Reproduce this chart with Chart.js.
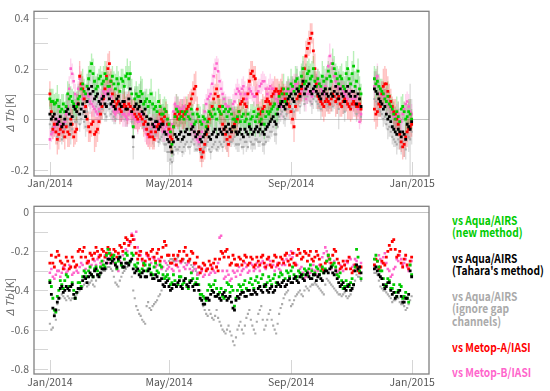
<!DOCTYPE html>
<html><head><meta charset="utf-8">
<script src="https://cdn.jsdelivr.net/npm/chart.js@4"></script>
<style>
html,body{margin:0;padding:0;background:#fff;width:550px;height:391px;overflow:hidden}
#c1{position:absolute;left:0;top:0}
#c2{position:absolute;left:0;top:195px}
.lg{position:absolute;left:452px;font-family:"Noto Sans CJK JP",sans-serif;font-weight:bold;font-size:12px;line-height:12.5px;white-space:nowrap;transform:scaleX(0.85);transform-origin:0 0}
</style></head><body>
<canvas id="c1" width="440" height="195"></canvas>
<canvas id="c2" width="440" height="196"></canvas>
<div id="legend"></div>
<script>
// ---- data: two interleaved daily samplings (days since 1 Jan 2014) ----
const days=[0,3,6,9,12,15,18,21,24,27,
30,33,36,39,42,45,48,51,54,57,
60,63,66,69,72,75,78,81,84,87,
90,93,96,99,102,105,108,111,114,117,
120,123,126,129,132,135,138,141,144,147,
150,153,156,159,162,165,168,171,174,177,
180,183,186,189,192,195,198,201,204,207,
210,213,216,219,222,225,228,231,234,237,
240,243,246,249,252,255,258,261,264,267,
270,273,276,279,282,285,288,291,294,297,
300,303,306,309,312,
327,330,333,336,339,342,345,348,351,354,357,360,363];
const daysB=[1.5,4.5,7.5,10.5,13.5,16.5,19.5,22.5,25.5,28.5,
31.5,34.5,37.5,40.5,43.5,46.5,49.5,52.5,55.5,58.5,
61.5,64.5,67.5,70.5,73.5,76.5,79.5,82.5,85.5,88.5,
91.5,94.5,97.5,100.5,103.5,106.5,109.5,112.5,115.5,118.5,
121.5,124.5,127.5,130.5,133.5,136.5,139.5,142.5,145.5,148.5,
151.5,154.5,157.5,160.5,163.5,166.5,169.5,172.5,175.5,178.5,
181.5,184.5,187.5,190.5,193.5,196.5,199.5,202.5,205.5,208.5,
211.5,214.5,217.5,220.5,223.5,226.5,229.5,232.5,235.5,238.5,
241.5,244.5,247.5,250.5,253.5,256.5,259.5,262.5,265.5,268.5,
271.5,274.5,277.5,280.5,283.5,286.5,289.5,292.5,295.5,298.5,
301.5,304.5,307.5,310.5,313.5,
328.5,331.5,334.5,337.5,340.5,343.5,346.5,349.5,352.5,355.5,358.5,361.5,364.5];

const tickDays=[0,120,243,365];
const tickLabels=['Jan/2014','May/2014','Sep/2014','Jan/2015'];
const topYTicks=[-0.2,-0.1,0,0.1,0.2,0.3,0.4];
const topYLabels=['-0.2','','0','','0.2','','0.4'];
const botYTicks=[-0.8,-0.7,-0.6,-0.5,-0.4,-0.3,-0.2,-0.1,0];
const botYLabels=['-0.8','','-0.6','','-0.4','','-0.2','','0'];

const seriesNames=['vs Aqua/AIRS (new method)',"vs Aqua/AIRS (Tahara's method)",'vs Aqua/AIRS (ignore gap channels)','vs Metop-A/IASI','vs Metop-B/IASI'];
const legendLines=[['vs Aqua/AIRS','(new method)'],['vs Aqua/AIRS',"(Tahara's method)"],['vs Aqua/AIRS','(ignore gap','channels)'],['vs Metop-A/IASI'],['vs Metop-B/IASI']];

// ===== top panel: ΔTb [K] =====
const topGreen=[.08,.07,.065,.05,.04,.03,.1,.09,.06,.05,
.09,.14,.1,.16,.22,.15,.13,.17,.15,.16,
.13,.17,.12,.14,.16,.13,.18,.18,-.03,.1,
.09,.1,.07,.05,.1,.04,.03,.05,.02,.03,
-.02,-.1,.01,.03,.01,0,.03,0,.02,-.01,
.01,-.02,0,-.01,.02,.04,0,.03,.05,.04,
.03,.02,0,.01,-.01,.02,0,-.02,.01,-.01,
.02,0,-.02,.03,.03,.05,.02,.09,.1,.07,
.12,.14,.11,.16,.13,.2,.15,.19,.17,.15,
.16,.13,.15,.16,.17,.22,.18,.14,.16,.12,
.2,.14,.21,.15,.12,
.16,.15,.12,.1,.07,.06,.04,0,.01,.04,.03,.01,.02];
const topGreenB=[.07,.06,.075,.03,.06,.05,.08,.07,.04,.08,
.12,.11,.13,.19,.18,.12,.16,.14,.18,.13,
.15,.14,.16,.11,.15,.17,.16,.1,.08,.09,
.11,.06,.08,.07,.06,.05,.07,.02,.04,0,
-.05,-.03,.04,0,.03,.02,.01,.04,-.02,.02,
-.01,.01,-.03,.03,.01,.02,.04,.02,.03,.01,
.04,0,-.01,.03,.01,-.01,.02,0,.03,.01,
-.01,.03,.01,.02,.04,.06,.04,.07,.12,.1,
.09,.13,.15,.12,.17,.14,.18,.16,.2,.13,
.14,.17,.12,.19,.15,.2,.16,.17,.13,.18,
.16,.18,.13,.19,.1,
.14,.13,.11,.08,.09,.05,.02,.03,-.01,.05,0,.03,0];
const topBlack=[.02,.01,0,-.01,-.03,0,.04,-.02,.05,.03,
.02,.06,.01,.12,.13,.08,.1,.06,.09,.05,
.08,.07,.04,.09,.05,.07,.04,.12,-.07,.06,
.05,.03,.04,-.02,0,-.03,-.01,-.03,-.02,-.06,
-.09,-.13,-.06,-.08,-.05,-.07,-.04,-.06,-.03,-.07,
-.05,-.09,-.06,-.04,-.08,-.05,-.07,-.04,-.06,-.03,
-.02,-.05,-.03,-.06,-.04,-.07,-.05,-.03,-.06,-.04,
-.05,-.02,-.06,-.03,-.01,.01,-.02,.05,.07,.04,
.08,.1,.07,.12,.09,.15,.12,.14,.1,.13,
.1,.08,.11,.1,.12,.09,.13,.08,.1,.07,
.13,.09,.11,.06,.08,
.12,.1,.07,.04,.02,.01,-.03,-.05,-.04,-.07,-.06,-.02,-.04];
const topBlackB=[0,.02,-.02,.01,-.02,.03,.02,.01,.04,.06,
.04,.03,.07,.1,.11,.09,.07,.08,.06,.1,
.06,.05,.08,.06,.07,.04,.08,.03,.05,.04,
.07,.02,.01,0,-.02,-.01,-.04,-.02,-.05,-.08,
-.11,-.09,-.07,-.06,-.08,-.05,-.06,-.04,-.05,-.06,
-.08,-.07,-.05,-.07,-.06,-.04,-.06,-.05,-.04,-.05,
-.04,-.03,-.05,-.05,-.06,-.04,-.06,-.04,-.05,-.03,
-.04,-.05,-.04,-.02,0,-.01,.02,.06,.05,.06,
.09,.08,.1,.11,.13,.1,.13,.11,.12,.11,
.09,.1,.12,.09,.1,.11,.1,.12,.09,.11,
.1,.11,.09,.1,.05,
.11,.08,.06,.05,0,-.01,-.04,-.06,-.05,-.05,-.08,-.03,-.01];
const topGray=[-.02,-.03,-.05,-.06,-.08,-.04,0,-.06,.01,-.01,
-.02,.02,-.03,.08,.1,.04,.06,.02,.05,.01,
.04,.03,0,.05,.01,.03,0,.08,-.11,.02,
.01,-.01,0,-.06,-.04,-.07,-.05,-.08,-.06,-.1,
-.13,-.17,-.11,-.12,-.09,-.11,-.09,-.11,-.08,-.12,
-.1,-.14,-.11,-.09,-.13,-.1,-.12,-.09,-.11,-.08,
-.06,-.09,-.07,-.1,-.08,-.11,-.09,-.07,-.1,-.08,
-.09,-.06,-.1,-.07,-.05,-.03,-.06,.01,.03,0,
.04,.06,.03,.08,.05,.11,.08,.1,.06,.09,
.06,.04,.07,.06,.08,.05,.09,.04,.06,.03,
.09,.05,.07,.02,.04,
.08,.06,.03,0,-.02,-.03,-.07,-.09,-.08,-.11,-.1,-.06,-.08];
const topGrayB=[-.05,-.03,-.07,-.04,-.07,-.02,-.03,-.04,-.01,.02,
0,-.01,.03,.06,.07,.05,.03,.04,.02,.06,
.02,.01,.04,.02,.03,0,.04,-.01,.01,0,
.03,-.03,-.04,-.05,-.07,-.06,-.09,-.07,-.1,-.13,
-.16,-.14,-.12,-.11,-.13,-.1,-.11,-.09,-.1,-.12,
-.13,-.12,-.1,-.12,-.11,-.09,-.11,-.1,-.09,-.1,
-.09,-.08,-.1,-.1,-.11,-.09,-.11,-.09,-.1,-.08,
-.09,-.1,-.09,-.07,-.05,-.06,-.03,.02,.01,.02,
.05,.04,.06,.07,.09,.06,.09,.07,.08,.07,
.05,.06,.08,.05,.06,.07,.06,.08,.05,.07,
.06,.07,.05,.06,.01,
.07,.04,.02,.01,-.04,-.05,-.08,-.1,-.09,-.09,-.12,-.07,-.05];
const topRed=[.1,-.04,-.05,-.06,-.03,-.07,-.05,0,-.07,-.04,
.17,.12,.05,-.03,-.02,-.06,-.04,.02,.08,.17,
.22,.1,.05,.07,.03,.06,.04,.05,.04,.01,
.02,0,-.01,-.06,-.05,-.08,-.03,.02,-.01,.03,
-.04,-.08,.02,0,.03,.02,.04,.06,.1,.13,
-.05,-.15,-.1,-.03,.02,.08,.12,.05,-.02,-.06,
-.1,-.05,-.02,0,.06,.08,.05,.15,.19,.16,
.04,.03,.05,.08,.06,.1,.12,.1,.12,.08,
.06,.03,-.03,.08,.1,.14,.25,.3,.34,.2,
.09,.07,.05,.08,.06,.1,.07,.09,.05,.08,
.06,.04,.07,.05,.06,
.04,.03,.05,.13,.14,.09,.05,.02,-.02,-.09,-.1,-.05,-.03];
const topRedB=[.03,-.02,-.08,-.04,-.05,-.03,-.06,-.02,-.05,.06,
.14,.08,0,-.05,-.01,-.05,-.01,.05,.12,.2,
.15,.07,.06,.04,.05,.05,.06,.03,.02,0,
.01,-.02,-.04,-.07,-.07,-.05,-.02,0,.01,-.02,
-.07,-.03,.01,.02,.01,.03,.05,.08,.12,.04,
-.12,-.13,-.06,0,.05,.1,.09,.02,-.04,-.08,
-.07,-.03,-.01,.03,.07,.06,.1,.18,.17,.1,
.02,.04,.07,.07,.09,.11,.11,.11,.1,.07,
.05,0,.05,.09,.12,.2,.28,.32,.27,.14,
.08,.06,.07,.07,.08,.09,.08,.06,.07,.07,
.05,.06,.06,.05,.04,
.02,.06,.1,.14,.11,.07,.03,0,-.06,-.11,-.07,-.04,-.02];
const topPink=[-.08,-.05,-.02,0,-.03,-.01,.05,.2,.15,.06,
.16,.08,.1,.09,.06,.04,.02,.06,.11,.1,
.12,.05,.02,.04,.03,.02,0,.03,.01,0,
-.01,.02,-.04,-.07,-.05,-.02,-.04,-.01,-.05,-.03,
-.06,-.02,.06,.05,.03,.05,.02,0,-.03,-.06,
-.09,-.05,.03,.08,.1,.17,.22,.15,.1,.06,
.05,.04,.07,.12,.1,.13,.08,.12,.1,.09,
.11,.14,.15,.1,.13,.12,.08,.06,.05,.1,
.12,.11,.13,.14,.1,.12,.08,.11,.09,.13,
.15,.12,.1,.16,.25,.2,.15,.12,.13,.1,
.08,.11,.06,.09,-.01,
.13,.17,.1,.09,.07,.05,.03,0,.02,-.01,.04,.07,.03];
const topPinkB=[-.06,-.03,-.01,-.02,-.02,.02,.12,.18,.1,.12,
.13,.09,.1,.07,.05,.03,.04,.09,.1,.11,
.09,.03,.03,.03,.02,.01,.02,.02,0,-.01,
.01,-.02,-.06,-.06,-.03,-.03,-.02,-.03,-.04,-.05,
-.04,.03,.05,.04,.04,.03,.01,-.02,-.05,-.08,
-.07,-.01,.06,.09,.14,.2,.19,.12,.08,.05,
.04,.06,.1,.11,.12,.1,.1,.11,.09,.1,
.13,.15,.12,.12,.12,.1,.07,.05,.08,.11,
.11,.12,.14,.12,.11,.1,.1,.1,.11,.14,
.13,.11,.13,.21,.22,.17,.13,.12,.11,.09,
.1,.08,.08,.04,.02,
.16,.13,.1,.08,.06,.04,.01,.01,0,.02,.06,.05,.02];

// top panel error half-widths [K]
const errGreen=[.04,.05,.04,.05,.06,.04,.05,.04,.05,.06,
.05,.06,.04,.05,.04,.06,.05,.04,.06,.05,
.05,.04,.06,.05,.04,.05,.06,.05,.04,.05,
.05,.06,.04,.05,.06,.05,.04,.05,.06,.05,
.04,.05,.05,.06,.04,.05,.06,.05,.04,.05,
.05,.04,.06,.05,.05,.04,.06,.05,.04,.05,
.05,.06,.05,.04,.05,.06,.04,.05,.05,.06,
.04,.05,.06,.05,.04,.05,.06,.05,.05,.04,
.05,.06,.05,.04,.06,.05,.07,.05,.06,.05,
.04,.05,.06,.05,.05,.06,.04,.05,.06,.05,
.05,.04,.06,.05,.05,
.05,.06,.04,.05,.06,.05,.04,.05,.06,.05,.04,.05,.06];
const errGreenB=[.05,.04,.06,.05,.04,.05,.06,.05,.04,.05,
.06,.05,.05,.04,.06,.05,.04,.05,.05,.06,
.04,.05,.05,.06,.05,.04,.05,.06,.05,.04,
.06,.05,.04,.05,.05,.06,.05,.04,.05,.06,
.05,.04,.06,.05,.05,.04,.05,.06,.05,.04,
.06,.05,.04,.05,.06,.05,.05,.04,.06,.05,
.04,.05,.06,.05,.04,.05,.05,.06,.04,.05,
.06,.05,.04,.05,.05,.06,.05,.04,.06,.05,
.05,.04,.06,.05,.05,.07,.05,.06,.05,.04,
.05,.06,.05,.04,.06,.05,.05,.04,.06,.05,
.04,.05,.06,.05,.04,
.06,.05,.05,.04,.06,.05,.05,.06,.04,.05,.06,.05,.04];
const errBlack=[.06,.07,.06,.08,.07,.06,.07,.08,.06,.07,
.07,.06,.08,.07,.06,.07,.08,.06,.07,.06,
.07,.08,.06,.07,.06,.08,.07,.06,.09,.07,
.06,.07,.08,.06,.07,.08,.06,.07,.08,.07,
.08,.09,.07,.06,.08,.07,.06,.08,.07,.06,
.07,.08,.06,.07,.08,.07,.06,.08,.07,.06,
.07,.06,.08,.07,.06,.07,.08,.06,.07,.08,
.06,.07,.08,.06,.07,.06,.08,.07,.06,.07,
.08,.07,.06,.09,.07,.08,.06,.07,.08,.06,
.07,.08,.06,.07,.08,.06,.07,.12,.06,.08,
.07,.06,.08,.07,.06,
.07,.08,.06,.07,.06,.08,.07,.06,.08,.07,.09,.07,.18];
const errBlackB=[.07,.06,.08,.07,.06,.07,.08,.07,.06,.08,
.06,.07,.07,.08,.06,.07,.06,.08,.07,.07,
.06,.07,.08,.06,.07,.07,.08,.06,.07,.06,
.08,.07,.06,.07,.08,.06,.07,.07,.08,.09,
.07,.08,.06,.07,.07,.08,.06,.07,.08,.07,
.06,.07,.08,.06,.07,.08,.07,.06,.07,.08,
.06,.07,.07,.08,.06,.07,.06,.08,.07,.06,
.07,.08,.06,.07,.07,.08,.06,.07,.07,.06,
.07,.08,.07,.06,.08,.07,.07,.06,.08,.07,
.06,.07,.08,.06,.07,.07,.08,.06,.07,.08,
.06,.07,.07,.08,.06,
.08,.07,.06,.07,.08,.06,.07,.08,.07,.06,.08,.1,.09];
const errRed=[.05,.04,.05,.06,.04,.05,.06,.05,.04,.05,
.06,.05,.04,.06,.05,.07,.05,.04,.05,.06,
.05,.04,.06,.05,.04,.05,.06,.05,.04,.05,
.06,.04,.05,.05,.06,.04,.05,.06,.05,.04,
.05,.06,.05,.04,.05,.06,.04,.05,.05,.06,
.05,.04,.06,.05,.04,.05,.06,.05,.04,.06,
.05,.04,.05,.06,.05,.04,.06,.05,.04,.05,
.06,.05,.04,.05,.06,.05,.04,.05,.06,.05,
.04,.05,.06,.05,.04,.05,.06,.05,.04,.06,
.05,.04,.06,.05,.04,.05,.06,.05,.04,.05,
.06,.05,.04,.05,.06,
.05,.06,.04,.07,.06,.05,.04,.06,.05,.04,.05,.06,.05];
const errRedB=[.04,.05,.06,.05,.04,.05,.05,.06,.05,.04,
.05,.06,.05,.04,.05,.06,.05,.05,.04,.06,
.05,.05,.04,.06,.05,.04,.05,.05,.06,.05,
.04,.05,.06,.05,.05,.04,.06,.05,.04,.05,
.06,.05,.04,.05,.05,.06,.05,.04,.06,.05,
.05,.04,.05,.06,.05,.04,.05,.06,.05,.05,
.04,.06,.05,.05,.04,.05,.06,.05,.04,.05,
.05,.06,.05,.04,.05,.06,.05,.05,.04,.06,
.05,.04,.05,.06,.05,.05,.04,.06,.05,.05,
.04,.05,.06,.05,.05,.04,.06,.05,.05,.04,
.05,.06,.05,.04,.05,
.06,.05,.05,.07,.06,.05,.05,.04,.06,.05,.05,.04,.05];
const errPink=[.04,.03,.04,.05,.03,.04,.05,.04,.03,.04,
.05,.04,.03,.04,.05,.03,.04,.05,.04,.03,
.04,.05,.03,.04,.04,.05,.03,.04,.05,.04,
.03,.04,.05,.04,.03,.04,.05,.04,.04,.03,
.04,.05,.03,.04,.05,.04,.03,.04,.05,.04,
.03,.04,.05,.04,.04,.05,.03,.04,.05,.04,
.04,.03,.05,.04,.03,.04,.05,.04,.03,.04,
.05,.04,.03,.04,.05,.04,.04,.03,.05,.04,
.03,.04,.05,.04,.03,.04,.05,.04,.04,.03,
.05,.04,.03,.04,.05,.04,.03,.04,.05,.04,
.04,.03,.05,.04,.03,
.04,.05,.03,.04,.05,.04,.03,.04,.05,.04,.03,.04,.05];
const errPinkB=[.03,.04,.05,.04,.04,.03,.05,.04,.04,.03,
.04,.05,.04,.03,.04,.04,.05,.03,.04,.04,
.05,.04,.03,.04,.05,.04,.04,.03,.04,.05,
.04,.03,.04,.04,.05,.04,.03,.04,.05,.04,
.04,.03,.05,.04,.04,.03,.04,.05,.04,.03,
.04,.05,.04,.03,.04,.04,.05,.04,.03,.04,
.05,.04,.04,.03,.04,.05,.04,.03,.04,.04,
.03,.04,.05,.04,.04,.03,.05,.04,.03,.04,
.04,.05,.04,.03,.04,.05,.04,.04,.03,.04,
.04,.03,.05,.04,.04,.05,.04,.03,.04,.04,
.05,.04,.03,.04,.04,
.03,.04,.05,.04,.04,.03,.04,.05,.04,.03,.04,.05,.04];

// ===== bottom panel: ΔTb [K] =====
const botGreen=[-.35,-.44,-.51,-.4,-.37,-.35,-.33,-.38,-.4,-.41,
-.36,-.33,-.31,-.3,-.32,-.29,-.3,-.28,-.27,-.22,
-.21,-.23,-.26,-.25,-.27,-.24,-.22,-.25,-.22,-.28,
-.3,-.29,-.27,-.29,-.31,-.28,-.3,-.27,-.32,-.33,
-.34,-.36,-.35,-.37,-.33,-.36,-.38,-.35,-.34,-.36,
-.37,-.42,-.44,-.4,-.38,-.37,-.39,-.41,-.43,-.4,
-.37,-.38,-.48,-.4,-.38,-.37,-.39,-.36,-.37,-.35,
-.36,-.34,-.37,-.36,-.35,-.34,-.36,-.33,-.32,-.34,
-.31,-.3,-.32,-.33,-.31,-.32,-.3,-.29,-.3,-.31,
-.29,-.3,-.31,-.25,-.24,-.27,-.28,-.33,-.35,-.38,
-.37,-.36,-.37,-.19,-.3,
-.24,-.25,-.3,-.34,-.37,-.35,-.39,-.41,-.4,-.38,-.43,-.44,-.27];
const botGreenB=[-.38,-.5,-.43,-.35,-.39,-.32,-.38,-.36,-.44,-.36,
-.38,-.3,-.33,-.28,-.33,-.28,-.32,-.25,-.28,-.19,
-.24,-.22,-.29,-.23,-.28,-.21,-.26,-.21,-.27,-.26,
-.31,-.26,-.3,-.27,-.32,-.26,-.31,-.28,-.34,-.32,
-.37,-.32,-.38,-.33,-.37,-.34,-.39,-.31,-.37,-.34,
-.42,-.43,-.45,-.37,-.4,-.35,-.42,-.39,-.44,-.36,
-.41,-.4,-.44,-.37,-.4,-.35,-.4,-.34,-.39,-.33,
-.38,-.32,-.38,-.33,-.37,-.32,-.37,-.31,-.35,-.3,
-.33,-.28,-.34,-.3,-.33,-.29,-.32,-.27,-.32,-.28,
-.32,-.28,-.29,-.22,-.28,-.26,-.32,-.31,-.39,-.35,
-.38,-.34,-.28,-.23,-.34,
-.22,-.28,-.3,-.38,-.34,-.39,-.37,-.43,-.37,-.44,-.41,-.46,-.32];
const botBlack=[-.36,-.49,-.5,-.44,-.38,-.4,-.39,-.38,-.42,-.41,
-.39,-.35,-.34,-.33,-.32,-.3,-.32,-.31,-.29,-.26,
-.24,-.25,-.27,-.24,-.26,-.28,-.26,-.25,-.29,-.3,
-.32,-.31,-.33,-.3,-.32,-.34,-.33,-.35,-.37,-.36,
-.38,-.39,-.37,-.36,-.38,-.35,-.37,-.36,-.38,-.37,
-.4,-.45,-.47,-.44,-.42,-.41,-.43,-.44,-.42,-.43,
-.44,-.46,-.5,-.43,-.42,-.41,-.43,-.4,-.42,-.41,
-.39,-.4,-.38,-.4,-.39,-.41,-.38,-.37,-.36,-.38,
-.35,-.36,-.34,-.35,-.33,-.34,-.32,-.33,-.34,-.32,
-.33,-.34,-.31,-.3,-.29,-.31,-.3,-.36,-.37,-.39,
-.38,-.4,-.37,-.27,-.28,
-.29,-.3,-.33,-.37,-.38,-.36,-.42,-.44,-.41,-.43,-.46,-.44,-.3];
const botBlackB=[-.42,-.53,-.46,-.39,-.41,-.38,-.4,-.37,-.44,-.39,
-.39,-.33,-.36,-.31,-.33,-.29,-.33,-.29,-.29,-.24,
-.26,-.24,-.28,-.23,-.28,-.26,-.27,-.24,-.31,-.29,
-.33,-.3,-.33,-.29,-.34,-.32,-.35,-.34,-.38,-.35,
-.4,-.37,-.38,-.35,-.39,-.34,-.38,-.35,-.4,-.37,
-.44,-.47,-.44,-.45,-.4,-.43,-.42,-.45,-.41,-.45,
-.43,-.49,-.45,-.44,-.41,-.43,-.4,-.42,-.4,-.42,
-.38,-.41,-.37,-.41,-.38,-.4,-.36,-.38,-.35,-.37,
-.34,-.36,-.33,-.36,-.32,-.35,-.31,-.34,-.32,-.35,
-.32,-.35,-.3,-.31,-.28,-.32,-.34,-.38,-.36,-.4,
-.37,-.39,-.3,-.29,-.31,
-.28,-.32,-.34,-.39,-.36,-.4,-.41,-.43,-.4,-.46,-.44,-.42,-.33];
const botGray=[-.57,-.59,-.55,-.5,-.42,-.44,-.43,-.45,-.44,-.42,
-.4,-.38,-.36,-.37,-.35,-.38,-.33,-.32,-.3,-.29,
-.28,-.3,-.36,-.38,-.33,-.3,-.28,-.26,-.4,-.48,
-.52,-.55,-.57,-.46,-.5,-.47,-.45,-.42,-.38,-.3,
-.25,-.24,-.25,-.23,-.26,-.24,-.27,-.25,-.28,-.3,
-.32,-.45,-.5,-.53,-.52,-.55,-.5,-.56,-.6,-.62,
-.58,-.63,-.68,-.6,-.56,-.62,-.54,-.5,-.58,-.62,
-.52,-.48,-.6,-.55,-.5,-.58,-.62,-.52,-.47,-.42,
-.4,-.48,-.45,-.42,-.4,-.43,-.38,-.4,-.37,-.36,
-.38,-.4,-.42,-.34,-.36,-.38,-.4,-.42,-.43,-.41,
-.44,-.42,-.38,-.32,-.33,
-.31,-.32,-.38,-.4,-.41,-.43,-.46,-.45,-.44,-.47,-.48,-.49,-.45];
const botGrayB=[-.6,-.52,-.47,-.44,-.43,-.45,-.44,-.44,-.43,-.41,
-.39,-.37,-.38,-.36,-.37,-.35,-.32,-.31,-.3,-.28,
-.29,-.33,-.37,-.35,-.31,-.29,-.27,-.33,-.44,-.5,
-.53,-.56,-.48,-.49,-.48,-.46,-.43,-.4,-.33,-.27,
-.24,-.25,-.24,-.25,-.25,-.26,-.26,-.27,-.29,-.31,
-.4,-.48,-.52,-.5,-.54,-.53,-.54,-.58,-.61,-.6,
-.61,-.66,-.64,-.58,-.6,-.58,-.52,-.55,-.6,-.56,
-.5,-.55,-.58,-.52,-.55,-.6,-.57,-.49,-.44,-.41,
-.45,-.47,-.43,-.41,-.42,-.4,-.39,-.38,-.37,-.37,
-.39,-.41,-.37,-.35,-.37,-.39,-.41,-.42,-.42,-.43,
-.43,-.4,-.35,-.33,-.35,
-.31,-.35,-.39,-.4,-.42,-.44,-.45,-.44,-.46,-.47,-.5,-.47,-.43];
const botRed=[-.26,-.26,-.23,-.22,-.26,-.27,-.25,-.28,-.25,-.27,
-.19,-.2,-.23,-.25,-.22,-.21,-.2,-.22,-.2,-.21,
-.19,-.22,-.2,-.21,-.18,-.16,-.14,-.15,-.14,-.21,
-.22,-.24,-.25,-.22,-.2,-.23,-.21,-.25,-.18,-.17,
-.22,-.26,-.24,-.22,-.25,-.2,-.22,-.24,-.21,-.26,
-.28,-.29,-.27,-.29,-.27,-.26,-.28,-.24,-.21,-.2,
-.23,-.26,-.24,-.27,-.24,-.25,-.23,-.26,-.24,-.27,
-.25,-.23,-.26,-.24,-.27,-.25,-.23,-.26,-.24,-.22,
-.25,-.24,-.26,-.22,-.21,-.23,-.21,-.22,-.24,-.23,
-.22,-.27,-.3,-.25,-.24,-.22,-.2,-.26,-.28,-.27,
-.25,-.29,-.3,-.28,-.31,
-.27,-.25,-.28,-.26,-.23,-.17,-.15,-.19,-.22,-.26,-.24,-.27,-.25];
const botRedB=[-.22,-.28,-.2,-.25,-.29,-.23,-.29,-.23,-.28,-.2,
-.23,-.18,-.26,-.21,-.24,-.18,-.23,-.19,-.23,-.18,
-.22,-.19,-.23,-.17,-.2,-.13,-.17,-.12,-.18,-.24,
-.2,-.27,-.21,-.24,-.19,-.25,-.19,-.23,-.15,-.22,
-.26,-.22,-.27,-.2,-.24,-.18,-.25,-.2,-.26,-.23,
-.31,-.26,-.3,-.25,-.29,-.24,-.3,-.2,-.23,-.19,
-.27,-.22,-.27,-.23,-.27,-.22,-.27,-.23,-.28,-.23,
-.27,-.22,-.28,-.23,-.28,-.22,-.27,-.23,-.26,-.21,
-.27,-.21,-.27,-.19,-.24,-.2,-.25,-.2,-.25,-.2,
-.24,-.29,-.26,-.22,-.26,-.19,-.24,-.29,-.25,-.29,
-.23,-.31,-.27,-.3,-.28,
-.24,-.29,-.25,-.27,-.2,-.19,-.14,-.23,-.2,-.28,-.22,-.29,-.23];
const botPink=[-.31,-.33,-.32,-.3,-.31,-.29,-.3,-.28,-.31,-.3,
-.28,-.27,-.29,-.26,-.27,-.25,-.24,-.26,-.25,-.23,
-.24,-.22,-.26,-.3,-.27,-.24,-.2,-.16,-.12,-.1,
-.2,-.25,-.25,-.23,-.26,-.24,-.27,-.25,-.28,-.26,
-.28,-.29,-.27,-.28,-.26,-.28,-.27,-.29,-.3,-.29,
-.31,-.3,-.32,-.29,-.31,-.3,-.28,-.13,-.3,-.33,
-.32,-.34,-.31,-.3,-.32,-.29,-.28,-.3,-.27,-.29,
-.28,-.26,-.28,-.27,-.25,-.27,-.28,-.29,-.27,-.27,
-.25,-.2,-.21,-.27,-.29,-.31,-.33,-.32,-.29,-.3,
-.3,-.28,-.21,-.2,-.26,-.27,-.29,-.3,-.28,-.27,
-.26,-.24,-.27,-.25,-.28,
-.27,-.25,-.24,-.23,-.26,-.3,-.32,-.28,-.25,-.24,-.26,-.28,-.27];
const botPinkB=[-.29,-.34,-.3,-.33,-.28,-.31,-.27,-.32,-.28,-.31,
-.26,-.3,-.25,-.28,-.24,-.27,-.22,-.27,-.22,-.26,
-.21,-.26,-.29,-.25,-.22,-.19,-.15,-.11,-.14,-.18,
-.22,-.27,-.22,-.27,-.23,-.28,-.24,-.29,-.25,-.29,
-.26,-.3,-.25,-.3,-.25,-.29,-.26,-.31,-.27,-.32,
-.28,-.33,-.29,-.32,-.28,-.31,-.26,-.12,-.34,-.3,
-.35,-.3,-.33,-.28,-.3,-.26,-.31,-.26,-.3,-.26,
-.3,-.25,-.29,-.24,-.28,-.3,-.26,-.3,-.25,-.24,
-.22,-.23,-.26,-.3,-.28,-.34,-.3,-.31,-.27,-.32,
-.27,-.23,-.18,-.23,-.29,-.25,-.31,-.27,-.3,-.25,
-.23,-.28,-.24,-.29,-.26,
-.28,-.22,-.26,-.21,-.29,-.33,-.29,-.24,-.22,-.27,-.24,-.3,-.25];

// ---- styling ----
const F='"Noto Sans CJK JP", sans-serif';
const colors=['#00cc00','#000000','#aaaaaa','#ff0000','#ff66cc'];
const errColors=['rgba(0,200,0,0.28)','rgba(120,120,120,0.25)',null,'rgba(255,0,0,0.24)','rgba(255,90,190,0.26)'];
const radii=[2,2,1.5,2,1.8];
const drawOrder=[1,0,3,4,2]; // first = on top

function pts(a,b){return a.map((v,i)=>({x:days[i],y:v})).concat(b.map((v,i)=>({x:daysB[i],y:v})));}
function makeDatasets(vals,errs){
  return drawOrder.map(k=>({label:seriesNames[k],data:pts(vals[k][0],vals[k][1]),
    errors:errs&&errs[k]?errs[k][0].concat(errs[k][1]):null,errColor:errColors[k],
    backgroundColor:colors[k],borderColor:colors[k],pointStyle:'rect',pointRadius:radii[k],pointBorderWidth:0,showLine:false}));
}

const panelPlugin={id:'panel',
  beforeDatasetsDraw(chart,args,o){
    const {ctx,chartArea:a,scales:{x,y}}=chart;
    ctx.save();ctx.lineWidth=1;
    y.ticks.forEach(t=>{const py=Math.round(y.getPixelForValue(t.value))+0.5;
      ctx.strokeStyle=t.value===0?'#c4c4c4':'#d6d6d6';ctx.beginPath();ctx.moveTo(a.left,py);
      ctx.lineTo(t.value===0?a.right:a.left+14,py);ctx.stroke();});
    x.ticks.forEach(t=>{const px=Math.round(x.getPixelForValue(t.value))+0.5;
      ctx.strokeStyle='#d6d6d6';ctx.beginPath();ctx.moveTo(px,a.bottom);ctx.lineTo(px,a.bottom-14);ctx.stroke();});
    ctx.beginPath();ctx.rect(a.left,a.top,a.right-a.left,a.bottom-a.top);ctx.clip();
    ctx.lineWidth=1.4;
    chart.data.datasets.forEach((ds,di)=>{
      if(!ds.errors)return;
      const meta=chart.getDatasetMeta(di);
      ctx.strokeStyle=ds.errColor;ctx.beginPath();
      meta.data.forEach((el,i)=>{const v=ds.data[i].y,e=ds.errors[i];if(e==null)return;
        ctx.moveTo(el.x,y.getPixelForValue(v-e));ctx.lineTo(el.x,y.getPixelForValue(v+e));});
      ctx.stroke();});
    ctx.restore();
  },
  afterDraw(chart,args,o){
    const {ctx,chartArea:a}=chart;
    ctx.save();ctx.strokeStyle='#808080';ctx.lineWidth=1.3;
    ctx.strokeRect(a.left,a.top,a.right-a.left,a.bottom-a.top);
    // y-axis title  Δ Tb [K]
    const parts=[['Δ ','italic '],['Tb','italic '],[' [K]','']];
    ctx.fillStyle='#666';ctx.textBaseline='middle';
    let w=0;parts.forEach(p=>{ctx.font=p[1]+'10.5px '+F;w+=ctx.measureText(p[0]).width;});
    ctx.translate(o.titleX,o.titleY);ctx.rotate(-Math.PI/2);
    let cx=-w/2;parts.forEach(p=>{ctx.font=p[1]+'10.5px '+F;ctx.fillText(p[0],cx,0);cx+=ctx.measureText(p[0]).width;});
    ctx.restore();
  }};

function makeOpts(ymin,ymax,yTicks,yLabels,padTop,xHeight,xPad,titleY){
  return {responsive:false,animation:false,
    layout:{padding:{left:0,right:11,top:padTop,bottom:0}},
    plugins:{legend:{display:false},tooltip:{enabled:false},panel:{titleX:10,titleY:titleY}},
    scales:{
      x:{type:'linear',min:-16,max:382,grid:{display:false,drawTicks:false},border:{display:false},
        afterBuildTicks:s=>{s.ticks=tickDays.map(v=>({value:v}));},
        ticks:{autoSkip:false,maxRotation:0,minRotation:0,padding:xPad,color:'#555',font:{size:10.5,family:F},
          callback:(v,i)=>tickLabels[i]},
        afterFit:s=>{s.height=xHeight;}},
      y:{type:'linear',min:ymin,max:ymax,grid:{display:false,drawTicks:false},border:{display:false},
        afterBuildTicks:s=>{s.ticks=yTicks.map(v=>({value:v}));},
        ticks:{autoSkip:false,padding:5,color:'#666',font:{size:10.5,family:F},callback:(v,i)=>yLabels[i]},
        afterFit:s=>{s.width=34;}}
    }};
}

new Chart(document.getElementById('c1'),{type:'scatter',
  data:{datasets:makeDatasets(
    [[topGreen,topGreenB],[topBlack,topBlackB],[topGray,topGrayB],[topRed,topRedB],[topPink,topPinkB]],
    [[errGreen,errGreenB],[errBlack,errBlackB],null,[errRed,errRedB],[errPink,errPinkB]])},
  options:makeOpts(-0.225,0.427,topYTicks,topYLabels,5,19,1,113),plugins:[panelPlugin]});
new Chart(document.getElementById('c2'),{type:'scatter',
  data:{datasets:makeDatasets(
    [[botGreen,botGreenB],[botBlack,botBlackB],[botGray,botGrayB],[botRed,botRedB],[botPink,botPinkB]],null)},
  options:makeOpts(-0.827,0.03,botYTicks,botYLabels,10,17,2,102),plugins:[panelPlugin]});

// legend (text only, coloured like the series)
const legendTops=[213.5,251.5,289.5,340.5,365.5];
const lg=document.getElementById('legend');
legendLines.forEach((lines,k)=>{const d=document.createElement('div');d.className='lg';
  d.style.top=legendTops[k]+'px';d.style.color=colors[k];
  lines.forEach((s,j)=>{if(j)d.appendChild(document.createElement('br'));d.appendChild(document.createTextNode(s));});
  lg.appendChild(d);});
</script>
</body></html>
